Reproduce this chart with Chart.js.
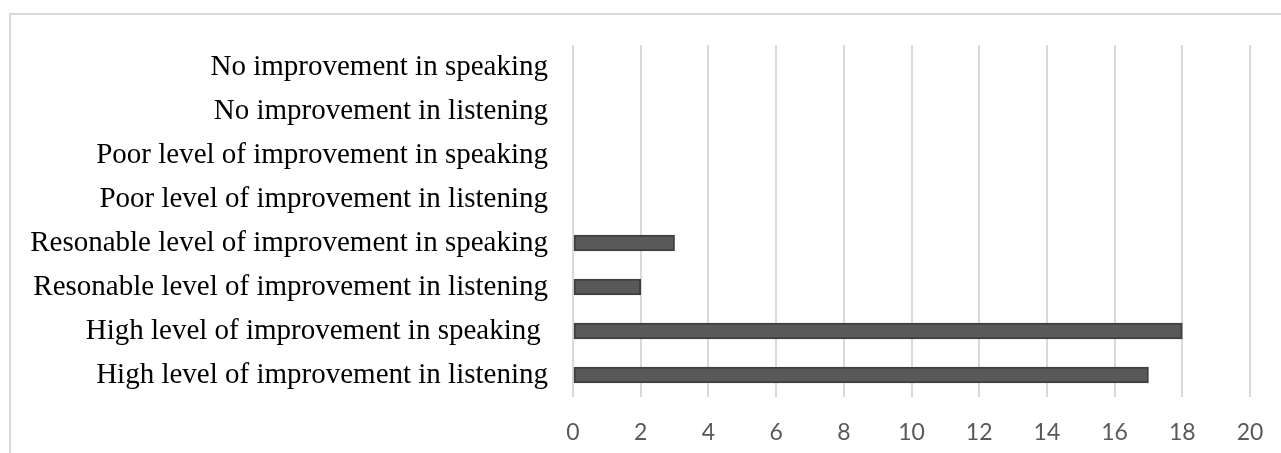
<!doctype html>
<html lang="en">
  <head>
    <meta charset="utf-8">
    <title>Improvement in listening and speaking</title>
    <script src="https://cdn.jsdelivr.net/npm/chart.js"></script>
    <style>
      html, body { margin: 0; padding: 0; background: #fff; }
      #wrap { width: 1281px; height: 453px; }
    </style>
  </head>
  <body>
    <div id="wrap"><canvas id="myChart" width="1281" height="453"></canvas></div>

    <script>
    // categories, top to bottom as they appear
    const categories = [
        'No improvement in speaking',
        'No improvement in listening',
        'Poor level of improvement in speaking',
        'Poor level of improvement in listening',
        'Resonable level of improvement in speaking',
        'Resonable level of improvement in listening',
        'High level of improvement in speaking ',
        'High level of improvement in listening'
    ];
    const counts = [0, 0, 0, 0, 3, 2, 18, 17];
    const xTicks = [0, 2, 4, 6, 8, 10, 12, 14, 16, 18, 20];

    // light frame around the chart, like the one in the document
    const framePlugin = {
        id: 'frame',
        beforeDraw(chart) {
            const c = chart.ctx;
            c.save();
            c.strokeStyle = '#d9d9d9';
            c.lineWidth = 2;
            c.strokeRect(10, 14, 1400, 600);
            c.restore();
        }
    };

    const ctx = document.getElementById('myChart');
    const myChart = new Chart(ctx, {
        type: 'bar',
        data: {
            labels: categories,
            datasets: [{
                label: 'Count',
                data: counts,
                backgroundColor: '#595959',
                borderColor: '#3f3f3f',
                borderWidth: 2,
                borderSkipped: false,
                barThickness: 16
            }]
        },
        options: {
            indexAxis: 'y',
            responsive: false,
            animation: false,
            layout: { padding: { top: 45, right: 31, bottom: 0, left: 0 } },
            plugins: {
                legend: { display: false },
                tooltip: { enabled: false }
            },
            scales: {
                x: {
                    min: 0,
                    max: 20,
                    afterFit(scale) {
                        scale.height = 56;
                        scale.paddingLeft = 0;
                        scale.paddingRight = 0;
                    },
                    afterBuildTicks(scale) { scale.ticks = xTicks.map(v => ({ value: v })); },
                    border: { display: false },
                    grid: { color: '#d9d9d9', lineWidth: 2, drawTicks: false },
                    ticks: {
                        padding: 22,
                        color: '#595959',
                        font: { family: "Lato, 'Open Sans', sans-serif", size: 23 }
                    }
                },
                y: {
                    afterFit(scale) { scale.width = 573; },
                    border: { display: false },
                    grid: { display: false, drawTicks: false },
                    ticks: {
                        padding: 25,
                        color: '#000',
                        autoSkip: false,
                        font: { family: "'Liberation Serif', 'Times New Roman', serif", size: 29 }
                    }
                }
            }
        },
        plugins: [framePlugin]
    });
    </script>
  </body>
</html>
